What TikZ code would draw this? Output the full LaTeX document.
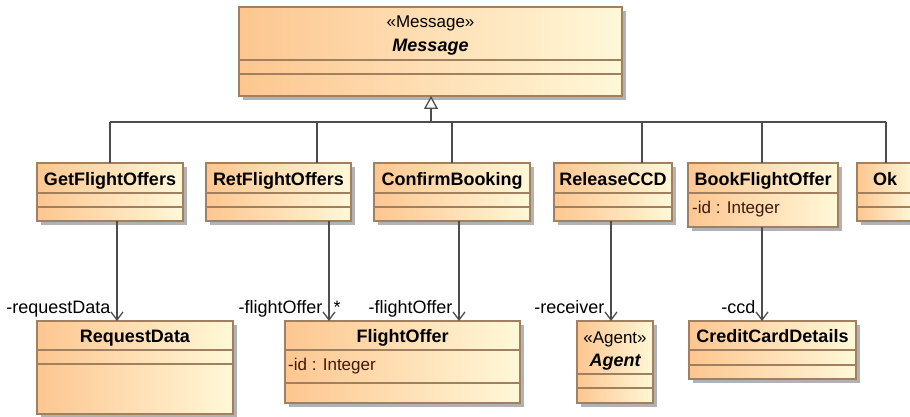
\documentclass[tikz,border=0pt]{standalone}
\usepackage{fontspec}
\setmainfont{Liberation Sans}
\usetikzlibrary{arrows.meta,shadows}

\definecolor{clsLeft}{HTML}{FDC690}
\definecolor{clsRight}{HTML}{FFF8D8}
\definecolor{clsBorder}{HTML}{A0805E}
\definecolor{wire}{HTML}{4D4D4D}
\definecolor{attrInk}{HTML}{40180A}

\tikzset{
  x=1pt, y=-1pt,
  classbody/.style={draw=clsBorder, line width=1.2pt,
    left color=clsLeft, right color=clsRight,
    inner sep=0pt, outer sep=0pt,
    drop shadow={shadow xshift=4pt, shadow yshift=-4pt, fill=black!30, opacity=1}},
  sepline/.style={draw=clsBorder, line width=1.2pt},
  cname/.style={font=\fontsize{18}{21}\selectfont\bfseries, anchor=base, inner sep=0pt},
  aname/.style={font=\fontsize{18}{21}\selectfont\bfseries\itshape, anchor=base, inner sep=0pt},
  stereo/.style={font=\fontsize{17}{20}\selectfont, anchor=base, inner sep=0pt},
  attr/.style={font=\fontsize{17}{20}\selectfont, text=attrInk, anchor=base west, inner sep=0pt},
  role/.style={font=\fontsize{18}{21}\selectfont, anchor=base east, inner sep=0pt, xshift=-6pt, yshift=8pt},
  mult/.style={font=\fontsize{18}{21}\selectfont, anchor=base west, inner sep=0pt, xshift=4pt, yshift=8pt},
  wireline/.style={draw=wire, line width=1.3pt},
  genline/.style={wireline, -{Triangle[open, length=13pt, width=14pt, fill=white]}},
  assoc/.style={wireline, -{Straight Barb[length=8pt, width=12pt, line width=1.3pt]}},
}

% class rectangle: name, x1, y1, x2, y2
\newcommand\umlbox[5]{%
  \node[classbody, minimum width={(#4)-(#2)}, minimum height={(#5)-(#3)}]
    (#1) at ({((#2)+(#4))/2},{((#3)+(#5))/2}) {};}
% compartment separator: class name, y
\newcommand\compsep[2]{\draw[sepline] (#1.west |- 0,#2) -- (#1.east |- 0,#2);}

\begin{document}
\begin{tikzpicture}
\clip (0,0) rectangle (910,417);

% ---- abstract message class ----
\umlbox{msg}{239}{7}{622}{96}
\compsep{msg}{60}\compsep{msg}{74}
\node[stereo] (msg-st) at (430.5,28) {«Message»};
\node[aname] (msg-n) at (430.5,52) {Message};

% ---- message kinds ----
\umlbox{getf}{37}{163}{183}{221}
\compsep{getf}{193}\compsep{getf}{207}
\node[cname] (getf-n) at (110,185.5) {GetFlightOffers};

\umlbox{retf}{206}{163}{351}{221}
\compsep{retf}{193}\compsep{retf}{207}
\node[cname] (retf-n) at (278.5,185.5) {RetFlightOffers};

\umlbox{conf}{374}{163}{530}{221}
\compsep{conf}{193}\compsep{conf}{207}
\node[cname] (conf-n) at (452,185.5) {ConfirmBooking};

\umlbox{relc}{554}{163}{672}{221}
\compsep{relc}{193}\compsep{relc}{207}
\node[cname] (relc-n) at (613,185.5) {ReleaseCCD};

\umlbox{bookf}{688}{163}{838}{227}
\compsep{bookf}{193}
\node[cname] (bookf-n) at (763,185.5) {BookFlightOffer};
\node[attr] (bookf-a) at (692,213.5) {-id : Integer};

\umlbox{okm}{857}{163}{913}{221}
\compsep{okm}{193}\compsep{okm}{207}
\node[cname] (okm-n) at (885,185.5) {Ok};

% ---- referenced classes ----
\umlbox{reqd}{37}{321}{233}{414}
\compsep{reqd}{350}\compsep{reqd}{364}
\node[cname] (reqd-n) at (135,342) {RequestData};

\umlbox{flo}{285}{321}{520}{403}
\compsep{flo}{350}\compsep{flo}{383}
\node[cname] (flo-n) at (402.5,342) {FlightOffer};
\node[attr] (flo-a) at (288,370.5) {-id : Integer};

\umlbox{agent}{577}{321}{653}{403}
\compsep{agent}{374}\compsep{agent}{388}
\node[stereo] (agent-st) at (615,343) {«Agent»};
\node[aname] (agent-n) at (615,366) {Agent};

\umlbox{ccd}{689}{321}{856}{379}
\compsep{ccd}{350}\compsep{ccd}{365}
\node[cname] (ccd-n) at (772.5,342) {CreditCardDetails};

% ---- generalization tree ----
\coordinate (b-getf) at (110,122);
\coordinate (b-retf) at (317,122);
\coordinate (b-conf) at (452,122);
\coordinate (b-relc) at (642,122);
\coordinate (b-bookf) at (762,122);
\coordinate (b-okm) at (886,122);
\coordinate (b-root) at (431,122);
\draw[wireline] (b-getf) -- (b-okm);
\foreach \c in {getf,retf,conf,relc,bookf,okm}
  \draw[wireline] (b-\c) -- (\c.north -| b-\c);
\draw[genline] (b-root) -- (msg.south -| b-root);

% ---- associations ----
\coordinate (x-req) at (117,0);
\coordinate (x-ret) at (329,0);
\coordinate (x-conf) at (459,0);
\coordinate (x-relc) at (611,0);
\coordinate (x-book) at (762,0);
\draw[assoc] (getf.south -| x-req) -- (reqd.north -| x-req)
  node[role, pos=1] (r-req) {-requestData};
\draw[assoc] (retf.south -| x-ret) -- (flo.north -| x-ret)
  node[role, pos=1] (r-ret) {-flightOffer}
  node[mult, pos=1] (m-ret) {*};
\draw[assoc] (conf.south -| x-conf) -- (flo.north -| x-conf)
  node[role, pos=1] (r-conf) {-flightOffer};
\draw[assoc] (relc.south -| x-relc) -- (agent.north -| x-relc)
  node[role, pos=1] (r-relc) {-receiver};
\draw[assoc] (bookf.south -| x-book) -- (ccd.north -| x-book)
  node[role, pos=1] (r-book) {-ccd};
\end{tikzpicture}
\end{document}
